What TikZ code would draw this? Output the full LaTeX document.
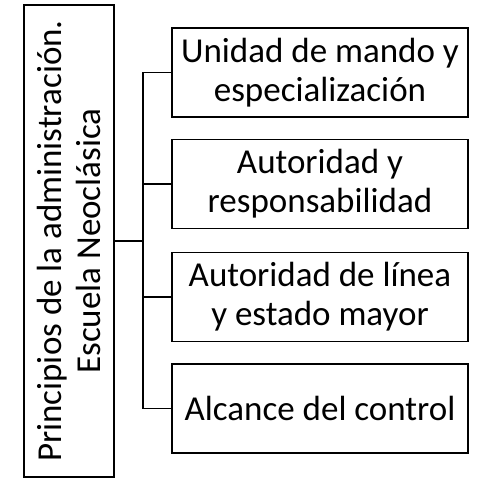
\documentclass[tikz,border=0pt]{standalone}
\usepackage{fontspec}
\setmainfont{Carlito}
\usetikzlibrary{positioning}

\begin{document}
\begin{tikzpicture}[x=1pt,y=-1pt,line width=1.6pt]
    \useasboundingbox (0,0) rectangle (483,480);
    \begin{scope}[every node/.style={draw,font=\fontsize{35}{39}\selectfont,
        align=center,inner sep=0pt}]
      \node (lb) [rotate=90,minimum width=472,minimum height=90]
        at (69,241) {Principios de la administración.\\Escuela Neoclásica};
      \node (b1) [minimum width=296,minimum height=89] at (320,72.5)
        {Unidad de mando y\\especialización};
      \node (b2) [minimum width=296,minimum height=89] at (320,184)
        {Autoridad y\\responsabilidad};
      \node (b3) [minimum width=296,minimum height=89] at (320,297)
        {Autoridad de línea\\y estado mayor};
      \node (b4) [minimum width=296,minimum height=89] at (320,408.5)
        {Alcance del control};
    \end{scope}
    \coordinate (j) at (143,241);
    \draw (lb.south) -- (j);
    \foreach \b in {b1,b2,b3,b4}
      \draw (j) |- (\b.west);
\end{tikzpicture}
\end{document}
